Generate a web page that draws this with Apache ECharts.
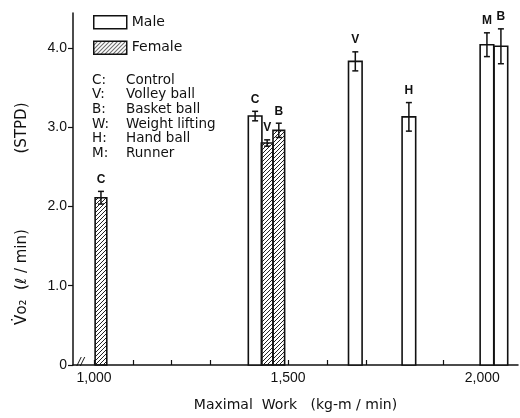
<!DOCTYPE html>
<html><head><meta charset="utf-8">
<script src="https://cdn.jsdelivr.net/npm/echarts@6/dist/echarts.min.js"></script>
<style>html,body{margin:0;padding:0;background:#fff}#c{width:520px;height:418px}</style>
</head><body><div id="c"></div>
<script>
// ---- data ----
const maleWork = [1415, 1673, 1811, 2012, 2048];
const maleVO2 = [3.14, 3.83, 3.13, 4.04, 4.02];
const maleErr = [0.06, 0.12, 0.18, 0.15, 0.22];
const maleLabels = ['C', 'V', 'H', 'M', 'B'];
const femaleWork = [1018, 1446, 1476];
const femaleVO2 = [2.11, 2.80, 2.96];
const femaleErr = [0.08, 0.04, 0.09];
const femaleLabels = ['C', 'V', 'B'];
const xTickLabels = [1000, 1500, 2000];
const xMinorTicks = [1000, 1100, 1200, 1300, 1400, 1500, 1600, 1700, 1800, 1900, 2000];
const yTickLabels = [0, 1, 2, 3, 4];
const abbrevKeys = ['C:', 'V:', 'B:', 'W:', 'H:', 'M:'];
const abbrevNames = ['Control', 'Volley ball', 'Basket ball', 'Weight lifting', 'Hand ball', 'Runner'];

// ---- style ----
const INK = '#111';
const FONT = '"Liberation Sans", Arial, sans-serif';
const WIDE = '"DejaVu Sans", Verdana, sans-serif';
const MALE_W = 35, FEMALE_W = 30;

function hatch() {
  const c = document.createElement('canvas');
  c.width = 4; c.height = 4;
  const g = c.getContext('2d');
  g.strokeStyle = '#222'; g.lineWidth = 1;
  g.beginPath();
  g.moveTo(0, 4); g.lineTo(4, 0);
  g.moveTo(-1, 1); g.lineTo(1, -1);
  g.moveTo(3, 5); g.lineTo(5, 3);
  g.stroke();
  return { image: c, repeat: 'repeat' };
}
const HATCH = hatch();

function render(widthUnits, fill, labels) {
  return function (params, api) {
    const x = api.value(0), v = api.value(1), e = api.value(2);
    const p0 = api.coord([x - widthUnits / 2, 0]);
    const p1 = api.coord([x + widthUnits / 2, v]);
    const top = api.coord([x, v + e]);
    const bot = api.coord([x, v - e]);
    const cap = 3;
    const ls = { stroke: INK, lineWidth: 1.5 };
    return {
      type: 'group', children: [
        { type: 'rect', shape: { x: p0[0], y: p1[1], width: p1[0] - p0[0], height: p0[1] - p1[1] },
          style: { fill: fill, stroke: INK, lineWidth: 1.6 } },
        { type: 'line', shape: { x1: top[0], y1: top[1], x2: bot[0], y2: bot[1] }, style: ls },
        { type: 'line', shape: { x1: top[0] - cap, y1: top[1], x2: top[0] + cap, y2: top[1] }, style: ls },
        { type: 'line', shape: { x1: bot[0] - cap, y1: bot[1], x2: bot[0] + cap, y2: bot[1] }, style: ls },
        { type: 'text', x: top[0], y: top[1] - 6,
          style: { text: labels[params.dataIndex], fill: INK, align: 'center', verticalAlign: 'bottom',
                   font: 'bold 12px ' + FONT } }
      ]
    };
  };
}

const chart = echarts.init(document.getElementById('c'));
chart.setOption({
  backgroundColor: '#fff',
  animation: false,
  grid: { left: 73, right: 2, top: 13, bottom: 53 },
  legend: {
    orient: 'vertical', left: 93, top: 15, padding: 0, itemWidth: 33, itemHeight: 13, itemGap: 11,
    textStyle: { fontSize: 14, fontFamily: WIDE, color: INK },
    data: [
      { name: 'Male', icon: 'rect', itemStyle: { color: '#fff', borderColor: INK, borderWidth: 1.5 } },
      { name: 'Female', icon: 'rect', itemStyle: { color: HATCH, borderColor: INK, borderWidth: 1.5 } }
    ]
  },
  xAxis: {
    type: 'value', min: 946, max: 2092,
    name: 'Maximal  Work   (kg-m / min)', nameLocation: 'middle', nameGap: 33,
    nameTextStyle: { fontSize: 14, fontFamily: WIDE, color: INK },
    axisLine: { lineStyle: { color: INK, width: 1.5 } },
    axisTick: { inside: true, length: 5, customValues: xMinorTicks, lineStyle: { color: INK, width: 1.2 } },
    axisLabel: { customValues: xTickLabels, fontSize: 14, fontFamily: FONT, color: INK, margin: 6,
                 formatter: v => v.toLocaleString('en-US') },
    splitLine: { show: false }
  },
  yAxis: {
    type: 'value', min: 0, max: 4.44,
    axisLine: { show: true, lineStyle: { color: INK, width: 1.5 } },
    axisTick: { show: true, length: 5, customValues: yTickLabels, lineStyle: { color: INK, width: 1.2 } },
    axisLabel: { customValues: yTickLabels, fontSize: 14, fontFamily: FONT, color: INK, margin: 6,
                 formatter: v => v === 0 ? '0' : v.toFixed(1) },
    splitLine: { show: false }
  },
  graphic: [
    { type: 'text', left: 92, top: 73,
      style: { text: abbrevKeys.join('\n'), font: '13.5px ' + WIDE, lineHeight: 14.6, fill: INK } },
    { type: 'text', left: 126, top: 73,
      style: { text: abbrevNames.join('\n'), font: '13.5px ' + WIDE, lineHeight: 14.6, fill: INK } },
    { type: 'text', x: 22, y: 277, rotation: Math.PI / 2,
      style: { text: 'V\u0307o\u2082  (\u2113 / min)', font: '15px ' + WIDE, fill: INK, align: 'center', verticalAlign: 'middle' } },
    { type: 'text', x: 22, y: 128, rotation: Math.PI / 2,
      style: { text: '(STPD)', font: '15px ' + WIDE, fill: INK, align: 'center', verticalAlign: 'middle' } },
    { type: 'text', left: 77, top: 356,
      style: { text: '//', font: 'italic 13px ' + FONT, fill: INK } }
  ],
  series: [
    { name: 'Male', type: 'custom', itemStyle: { color: '#fff' },
      renderItem: render(MALE_W, '#fff', maleLabels),
      data: maleWork.map((w, i) => [w, maleVO2[i], maleErr[i]]) },
    { name: 'Female', type: 'custom', itemStyle: { color: HATCH },
      renderItem: render(FEMALE_W, HATCH, femaleLabels),
      data: femaleWork.map((w, i) => [w, femaleVO2[i], femaleErr[i]]) }
  ]
});
</script>
</body></html>
